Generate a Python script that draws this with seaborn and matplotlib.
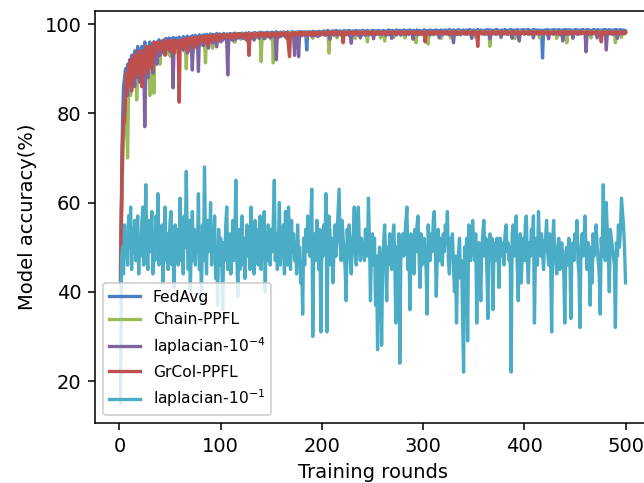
import numpy as np
import pandas as pd
import matplotlib
matplotlib.use("Agg")
import matplotlib.pyplot as plt
import seaborn as sns

series_names = ["FedAvg", "Chain-PPFL", "laplacian-$10^{-4}$", "GrCol-PPFL", "laplacian-$10^{-1}$"]
series_colors = ["#4A7DC4", "#9BBB59", "#8064A2", "#C0504D", "#4BACC6"]
x_ticks = [0, 100, 200, 300, 400, 500]
y_ticks = [20, 40, 60, 80, 100]

fedavg = [
    44, 63, 78, 86, 88, 90, 87, 91, 89, 92, 90, 93, 88, 92, 94, 91, 93, 95, 92, 94,
    93, 95, 91, 94, 96, 93, 95, 92, 94, 96, 94, 95, 93, 96, 95, 94, 96, 95, 96.5, 94.5,
    95.8, 96.2, 95.1, 96.5, 95.9, 96.8, 95.4, 96.3, 96.9, 95.7, 96.6, 96.1, 97.0, 95.8, 96.4, 96.9, 95.6, 96.7, 97.1, 96.2,
    96.8, 95.9, 97.2, 96.5, 97.0, 96.1, 97.3, 96.6, 95.8, 97.1, 96.9, 97.4, 96.3, 97.0, 97.5, 96.7, 97.2, 96.4, 97.6, 97.0,
    97.3, 96.8, 97.6, 97.1, 96.5, 97.7, 97.2, 97.5, 96.9, 97.8, 97.3, 97.0, 97.7, 97.4, 96.8, 97.9, 97.5, 97.2, 97.8, 97.4,
    97.6, 97.1, 97.9, 97.5, 97.2, 97.8, 97.4, 97.0, 97.9, 97.6, 97.3, 97.8, 97.5, 98.0, 97.4, 97.7, 97.9, 97.2, 97.8, 97.6,
    98.0, 97.5, 97.8, 97.3, 98.0, 97.7, 97.4, 98.1, 97.6, 97.9, 97.5, 98.0, 97.7, 98.1, 97.4, 97.9, 98.0, 97.6, 98.2, 97.8,
    97.5, 98.1, 97.8, 98.0, 97.6, 98.2, 97.9, 97.7, 98.1, 97.8, 98.2, 97.6, 98.0, 97.9, 98.3, 97.7, 98.1, 97.9, 98.2, 97.8,
    98.0, 98.3, 97.8, 98.1, 97.9, 98.3, 98.0, 97.7, 98.2, 98.0, 98.3, 97.9, 98.1, 98.2, 97.8, 98.3, 98.0, 98.2, 97.9, 98.3,
    98.1, 97.9, 98.3, 98.0, 94.2, 98.2, 98.0, 98.3, 97.9, 98.2, 98.4, 98.0, 98.1, 98.3, 97.9, 98.2, 98.4, 98.1, 98.0, 98.3,
    98.2, 98.5, 98.0, 98.4, 98.1, 98.6, 98.3, 97.9, 98.4, 98.2, 98.5, 98.1, 98.3, 98.6, 98.0, 98.4, 98.2, 98.5, 98.3, 98.1,
    98.4, 98.6, 98.2, 98.0, 98.5, 98.3, 98.6, 98.1, 98.4, 98.2, 98.5, 98.3, 98.0, 98.6, 98.4, 98.2, 98.5, 98.1, 98.4, 98.6,
    98.3, 98.5, 98.1, 98.4, 98.6, 98.2, 98.4, 98.0, 98.5, 98.3, 98.6, 98.2, 98.4, 98.5, 98.1, 98.6, 98.3, 98.4, 98.2, 98.5,
    98.6, 98.3, 98.1, 98.5, 98.4, 98.7, 98.2, 98.5, 98.3, 98.6, 98.4, 98.1, 98.5, 98.7, 98.3, 98.4, 98.6, 98.2, 98.5, 98.4,
    98.7, 98.3, 98.5, 98.2, 98.6, 98.4, 98.7, 98.1, 98.5, 98.3, 98.6, 98.4, 98.2, 98.7, 98.5, 98.3, 98.6, 98.4, 98.1, 98.5,
    98.7, 98.4, 98.6, 98.2, 98.5, 98.3, 98.7, 98.5, 98.4, 98.6, 98.2, 98.5, 98.7, 98.3, 98.6, 98.4, 98.5, 98.7, 98.2, 98.6,
    98.4, 98.7, 98.5, 98.3, 98.6, 98.8, 98.4, 98.5, 98.2, 98.7, 98.5, 98.3, 98.6, 98.4, 98.8, 98.5, 98.2, 98.6, 98.4, 98.7,
    98.5, 98.3, 98.7, 98.6, 98.4, 98.8, 98.2, 98.6, 98.5, 98.7, 98.3, 98.6, 98.4, 98.8, 98.5, 98.3, 98.7, 98.6, 98.4, 98.5,
    98.7, 98.4, 98.6, 98.8, 98.3, 98.5, 98.7, 98.4, 98.6, 98.2, 98.7, 98.5, 98.8, 98.4, 98.6, 98.5, 98.3, 98.7, 98.6, 98.4,
    98.8, 98.5, 98.6, 98.3, 98.7, 98.5, 98.8, 98.4, 98.6, 98.7, 98.3, 98.5, 98.8, 98.6, 98.4, 98.7, 98.5, 98.6, 98.8, 98.3,
    98.6, 98.7, 98.4, 98.8, 98.5, 98.6, 98.3, 98.7, 98.5, 98.8, 98.4, 98.6, 98.7, 98.5, 98.3, 98.7, 98.6, 92.4, 98.5, 98.7,
    98.4, 98.6, 98.8, 98.5, 98.3, 98.7, 98.6, 98.4, 98.8, 98.5, 98.7, 98.3, 98.6, 98.8, 98.5, 98.4, 98.7, 98.6, 98.3, 98.8,
    98.5, 98.7, 98.4, 98.6, 98.8, 98.3, 98.6, 98.5, 98.7, 98.4, 98.8, 98.6, 98.5, 98.7, 98.3, 98.6, 98.8, 98.4, 98.7, 98.5,
    98.6, 98.8, 98.4, 98.7, 98.5, 98.3, 98.6, 98.8, 98.5, 98.7, 98.4, 98.6, 98.8, 98.5, 98.3, 98.7, 98.6, 98.4, 98.8, 98.5,
    98.7, 98.4, 98.6, 98.8, 98.5, 98.3, 98.7, 98.6, 98.4, 98.8, 98.5, 98.7, 98.3, 98.6, 98.8, 98.5, 98.4, 98.7, 98.6, 98.5,
]

chain_ppfl = [
    43, 55, 67, 74, 79, 83, 80, 70, 85, 88, 84, 89, 86, 90, 87, 91, 83, 89, 92, 88,
    91, 86, 93, 89, 92, 90, 94, 88, 92, 84, 93, 95, 91, 84.5, 94, 92, 95, 93, 94.5, 91,
    95.1, 93.8, 95.9, 94.6, 96.0, 93.2, 95.5, 94.9, 96.2, 92.8, 95.7, 94.4, 96.1, 95.0, 93.6, 96.3, 95.2, 94.7, 96.4, 95.3,
    94.8, 96.5, 95.1, 93.9, 96.2, 90.0, 95.8, 96.6, 94.9, 96.0, 95.4, 96.8, 93.7, 96.3, 95.6, 96.9, 94.8, 96.4, 97.0, 95.5,
    96.7, 95.2, 97.1, 96.0, 91.3, 96.8, 97.2, 95.9, 96.5, 97.3, 96.1, 94.6, 97.0, 96.6, 97.4, 95.8, 97.1, 96.4, 97.5, 96.9,
    97.2, 96.5, 97.6, 96.9, 97.3, 95.8, 97.5, 97.0, 96.4, 97.7, 97.1, 96.8, 97.6, 95.9, 97.4, 97.8, 96.9, 97.3, 97.7, 96.6,
    97.5, 97.9, 96.8, 97.4, 97.7, 96.2, 97.6, 97.9, 97.1, 97.5, 96.7, 97.8, 97.3, 97.9, 96.9, 97.6, 97.2, 98.0, 97.4, 91.6,
    97.7, 97.3, 98.0, 96.8, 97.6, 97.9, 97.2, 97.8, 97.5, 96.6, 97.9, 91.3, 97.7, 98.0, 97.4, 97.8, 96.9, 98.1, 97.6, 97.3,
    97.9, 98.1, 97.4, 97.8, 96.7, 98.0, 97.6, 97.9, 98.2, 97.3, 97.8, 98.0, 97.5, 96.5, 98.1, 97.7, 97.9, 98.2, 97.4, 97.8,
    98.0, 97.6, 98.2, 97.1, 97.9, 98.1, 97.5, 98.0, 97.7, 98.2, 96.8, 97.9, 98.1, 97.6, 98.0, 97.8, 98.2, 97.4, 97.9, 98.1,
    98.0, 97.6, 98.2, 97.8, 97.5, 98.1, 93.5, 97.9, 98.2, 97.7, 98.0, 97.4, 98.2, 97.9, 96.9, 98.1, 97.8, 98.3, 97.5, 98.0,
    97.8, 98.2, 97.6, 98.0, 98.3, 97.7, 98.1, 97.4, 98.0, 98.2, 97.8, 97.5, 96.8, 97.9, 98.1, 97.6, 98.2, 97.9, 97.7, 98.3,
    98.0, 97.6, 98.2, 97.8, 96.0, 98.1, 97.7, 98.3, 97.9, 97.5, 98.2, 98.0, 97.6, 98.3, 97.8, 98.1, 97.7, 96.9, 98.0, 97.5,
    98.3, 96.2, 98.0, 97.8, 98.2, 97.6, 98.1, 98.3, 97.9, 97.7, 97.0, 98.0, 97.5, 98.3, 97.9, 98.1, 97.7, 98.2, 98.0, 97.8,
    98.3, 96.9, 98.1, 97.9, 98.2, 97.7, 98.0, 98.3, 97.8, 98.1, 97.6, 98.2, 95.8, 98.0, 98.3, 97.9, 97.7, 98.2, 98.0, 97.6,
    98.3, 97.9, 98.1, 97.7, 95.5, 98.2, 98.0, 97.8, 98.3, 97.6, 98.1, 98.2, 97.9, 97.7, 98.3, 98.0, 97.8, 96.8, 97.6, 98.1,
    98.3, 97.9, 98.0, 97.7, 98.2, 98.4, 96.9, 98.1, 97.6, 98.3, 98.0, 97.9, 98.2, 97.7, 98.4, 98.1, 97.8, 98.3, 97.9, 98.0,
    98.2, 97.7, 98.4, 98.0, 97.8, 98.3, 97.6, 98.1, 98.2, 97.9, 98.4, 97.0, 98.0, 98.3, 97.7, 98.2, 98.0, 97.9, 98.4, 97.8,
    98.1, 98.3, 97.7, 98.2, 98.0, 95.0, 98.3, 97.9, 98.1, 97.8, 98.4, 98.0, 97.7, 98.2, 98.3, 97.9, 98.1, 97.6, 98.4, 98.0,
    98.2, 97.8, 98.3, 98.0, 97.7, 98.4, 98.1, 97.9, 98.2, 98.0, 96.8, 98.3, 98.1, 97.8, 98.4, 98.0, 97.9, 98.3, 98.1, 97.7,
    98.2, 98.4, 97.9, 98.1, 98.0, 97.7, 98.3, 98.2, 97.8, 98.4, 98.0, 98.1, 97.9, 98.3, 96.9, 98.2, 98.4, 98.0, 97.8, 98.3,
    98.1, 97.9, 98.4, 98.0, 97.7, 98.2, 98.3, 97.8, 98.1, 98.0, 98.4, 96.8, 98.2, 98.0, 97.9, 98.3, 98.1, 97.8, 98.2, 98.0,
    98.3, 95.8, 98.1, 97.9, 98.4, 98.0, 97.8, 98.2, 98.3, 97.9, 98.1, 98.4, 97.7, 98.2, 98.0, 97.8, 98.3, 98.1, 97.9, 98.4,
    98.0, 98.2, 97.8, 98.3, 98.1, 96.9, 98.4, 98.0, 98.2, 97.9, 98.3, 98.1, 97.8, 98.2, 98.4, 97.9, 98.0, 98.3, 97.7, 98.2,
    98.0, 98.3, 97.9, 98.1, 98.2, 97.8, 98.4, 98.0, 97.9, 95.8, 98.1, 98.3, 97.8, 98.2, 98.0, 97.0, 98.3, 98.1, 97.8, 98.2,
]

laplacian_1e4 = [
    42, 58, 73, 77, 80, 85, 88, 84, 89, 91, 87, 92, 89, 90, 86, 92, 88, 93, 90, 87,
    92, 89, 94, 91, 77, 90, 93, 88, 94, 91, 95, 92, 89, 94, 93, 95, 91, 94, 95.5, 93,
    94.5, 96.0, 95.2, 93.4, 96.1, 95.0, 94.3, 96.4, 95.6, 93.9, 96.2, 95.1, 85.7, 95.8, 96.3, 94.7, 95.5, 96.5, 93.8, 95.9,
    96.4, 95.0, 94.2, 96.6, 95.7, 96.1, 93.5, 96.7, 95.3, 96.2, 94.8, 89.7, 96.5, 95.9, 96.8, 95.1, 96.3, 89.4, 96.9, 95.6,
    96.6, 97.0, 95.2, 96.8, 95.9, 97.1, 96.3, 94.6, 97.2, 96.5, 97.0, 95.8, 96.9, 97.3, 96.1, 94.9, 97.2, 96.7, 97.4, 96.0,
    97.1, 96.4, 97.5, 96.8, 97.3, 96.0, 88.6, 97.2, 96.7, 97.6, 97.0, 96.3, 97.5, 97.1, 96.6, 97.7, 97.2, 96.9, 97.6, 97.0,
    97.4, 96.8, 97.7, 97.2, 96.5, 97.6, 97.3, 97.8, 96.9, 97.5, 97.1, 97.7, 96.4, 97.6, 97.8, 97.2, 97.5, 96.8, 97.7, 97.4,
    97.8, 97.3, 96.7, 97.6, 97.9, 97.2, 97.5, 97.8, 96.9, 97.6, 97.9, 97.3, 97.7, 96.6, 92.0, 97.8, 97.4, 97.9, 97.2, 97.6,
    97.9, 97.5, 97.8, 97.1, 97.7, 98.0, 97.4, 97.8, 96.9, 97.6, 98.0, 97.5, 93.0, 97.8, 97.3, 97.9, 92.7, 97.6, 98.0, 97.4,
    97.8, 98.1, 97.5, 97.9, 97.2, 97.7, 98.0, 97.6, 97.9, 97.3, 98.1, 97.7, 97.4, 98.0, 97.8, 97.2, 98.1, 97.6, 97.9, 98.0,
    97.7, 98.1, 97.5, 97.9, 98.2, 97.6, 98.0, 96.6, 98.1, 97.8, 98.2, 97.6, 97.9, 98.1, 97.4, 98.0, 98.2, 97.7, 97.9, 98.1,
    97.5, 98.0, 98.2, 97.6, 97.9, 98.1, 97.4, 98.0, 95.7, 97.8, 98.2, 97.6, 98.0, 97.9, 98.2, 97.5, 98.1, 96.9, 98.0, 97.6,
    98.2, 97.9, 97.5, 98.1, 97.8, 98.2, 97.6, 98.0, 97.9, 98.3, 96.7, 98.1, 97.8, 98.0, 98.2, 97.7, 97.9, 98.3, 97.6, 98.1,
    97.9, 98.2, 97.5, 98.0, 98.3, 97.7, 98.1, 97.9, 96.8, 98.2, 98.0, 97.8, 98.3, 97.6, 98.1, 97.9, 98.2, 97.5, 98.0, 98.3,
    97.8, 98.1, 97.6, 98.2, 98.0, 97.7, 98.3, 97.9, 98.1, 96.6, 98.2, 98.0, 97.8, 98.3, 97.6, 98.1, 98.0, 97.7, 98.2, 97.9,
    98.1, 97.7, 98.3, 98.0, 97.8, 98.2, 97.6, 98.1, 98.3, 97.9, 97.7, 98.2, 98.0, 97.8, 98.3, 96.9, 98.1, 98.2, 97.9, 97.7,
    98.2, 98.0, 97.8, 98.3, 97.9, 97.6, 98.2, 98.1, 97.8, 95.8, 98.0, 98.3, 97.7, 98.1, 98.2, 97.9, 97.6, 98.3, 98.0, 97.8,
    98.2, 98.1, 97.7, 98.3, 97.9, 98.0, 98.2, 96.8, 98.1, 98.3, 97.8, 98.0, 98.2, 97.7, 98.1, 98.3, 97.9, 97.8, 98.2, 98.0,
    97.7, 98.3, 98.1, 97.9, 98.2, 96.7, 98.0, 98.3, 97.8, 98.1, 98.2, 97.7, 98.0, 98.3, 97.9, 98.1, 97.0, 98.2, 98.0, 97.8,
    98.3, 98.1, 97.7, 98.2, 98.0, 97.9, 98.3, 96.8, 98.1, 98.2, 97.8, 98.0, 98.3, 97.7, 96.2, 98.1, 98.2, 97.9, 98.0, 98.3,
    97.8, 98.1, 98.2, 97.7, 98.3, 98.0, 97.9, 98.2, 96.9, 98.1, 98.3, 97.8, 98.0, 98.2, 97.7, 98.1, 98.3, 97.9, 98.0, 98.2,
    97.8, 98.3, 98.0, 96.7, 98.2, 98.1, 97.9, 98.3, 97.7, 98.0, 98.2, 97.8, 98.1, 98.3, 97.6, 98.0, 98.2, 96.2, 97.9, 98.3,
    98.1, 97.7, 98.2, 98.0, 97.8, 98.3, 98.1, 96.8, 98.2, 98.0, 97.9, 98.3, 97.7, 98.1, 98.2, 97.8, 98.0, 98.3, 97.9, 98.1,
    93.8, 98.2, 97.8, 98.0, 98.3, 97.7, 98.1, 98.2, 97.9, 98.0, 98.3, 96.9, 98.1, 98.2, 97.8, 98.0, 98.3, 97.7, 98.1, 98.2,
    94.2, 98.0, 98.3, 97.8, 98.1, 98.2, 97.7, 98.0, 98.3, 97.9, 98.1, 96.8, 98.2, 98.0, 97.8, 98.3, 98.1, 97.9, 98.2, 98.0,
]

grcol_ppfl = [
    45, 60, 74, 79, 78, 85, 89, 86, 91, 88, 92, 85, 90, 93, 88, 92, 90, 94, 89, 93,
    91, 86, 94, 90, 92, 95, 89, 93, 91, 95, 93, 90, 94, 96, 93, 95, 94, 96, 95, 94.5,
    95.5, 94.2, 96.3, 95.1, 93.0, 96.0, 95.4, 94.6, 96.5, 95.2, 94.0, 96.2, 95.7, 93.5, 96.4, 95.0, 96.1, 94.3, 82.5, 95.8,
    96.3, 95.1, 96.6, 94.7, 96.0, 96.8, 95.4, 93.9, 96.5, 96.9, 95.6, 96.2, 97.0, 94.8, 96.7, 96.1, 97.1, 95.5, 96.8, 97.2,
    96.4, 97.0, 95.9, 97.3, 96.6, 97.1, 95.2, 97.4, 96.8, 97.2, 96.0, 97.5, 96.9, 97.3, 96.5, 97.6, 97.0, 96.3, 97.4, 97.7,
    97.3, 96.8, 97.6, 97.1, 97.5, 96.9, 97.7, 97.2, 97.4, 97.8, 96.7, 97.5, 97.3, 97.8, 97.0, 97.6, 97.4, 97.9, 97.1, 97.6,
    97.8, 97.3, 97.6, 97.0, 97.9, 97.4, 97.7, 93.0, 97.5, 97.8, 97.2, 97.9, 97.6, 97.3, 97.8, 97.5, 97.9, 97.1, 97.7, 98.0,
    97.4, 97.8, 97.6, 98.0, 97.3, 97.7, 97.9, 97.5, 97.8, 97.2, 98.0, 97.6, 97.8, 97.4, 98.0, 97.7, 97.5, 97.9, 98.1, 97.6,
    97.8, 98.0, 97.5, 97.9, 97.7, 98.1, 95.0, 92.7, 97.8, 98.0, 97.6, 97.9, 98.1, 97.5, 97.8, 98.0, 97.7, 98.2, 97.6, 97.9,
    98.1, 97.7, 98.0, 97.8, 98.2, 97.6, 97.9, 98.1, 97.8, 98.0, 97.5, 98.2, 97.9, 97.7, 98.1, 97.8, 98.0, 98.2, 97.6, 97.9,
    98.0, 98.2, 97.8, 98.1, 97.9, 98.3, 97.7, 98.0, 98.2, 97.9, 98.1, 98.3, 97.8, 98.0, 98.2, 97.7, 98.1, 97.9, 98.3, 98.0,
    95.8, 98.1, 97.9, 98.2, 98.0, 97.8, 98.3, 98.0, 97.9, 98.2, 98.1, 97.7, 98.3, 98.0, 97.9, 98.2, 98.1, 97.8, 98.3, 98.0,
    98.1, 97.9, 98.3, 98.0, 97.8, 98.2, 98.1, 97.9, 98.3, 97.7, 98.2, 98.0, 98.1, 97.8, 98.3, 98.0, 97.9, 98.2, 98.1, 97.8,
    98.3, 98.0, 97.9, 98.2, 98.1, 97.8, 98.3, 98.0, 98.2, 97.9, 98.1, 98.3, 97.8, 98.0, 98.2, 98.1, 97.9, 98.3, 98.0, 97.8,
    98.2, 98.1, 97.9, 98.3, 98.0, 97.8, 98.2, 98.1, 98.3, 97.9, 98.0, 98.2, 97.8, 98.1, 98.3, 98.0, 97.9, 98.2, 98.1, 97.8,
    98.3, 96.0, 98.1, 98.0, 98.2, 97.9, 98.3, 98.1, 97.8, 98.2, 98.0, 98.3, 97.9, 98.1, 98.2, 97.8, 98.0, 98.3, 98.1, 97.9,
    98.2, 98.0, 98.3, 97.9, 98.1, 98.2, 97.8, 98.0, 98.3, 98.1, 97.9, 98.2, 98.0, 98.3, 97.8, 98.1, 98.2, 98.0, 97.9, 98.3,
    98.1, 97.8, 98.2, 98.0, 98.3, 98.1, 97.9, 98.2, 98.0, 97.8, 98.3, 98.1, 98.0, 95.0, 98.2, 97.9, 98.3, 98.1, 97.8, 98.2,
    98.0, 98.3, 98.1, 97.9, 98.2, 98.0, 97.8, 98.3, 98.1, 98.2, 97.9, 98.0, 98.3, 98.1, 97.8, 98.2, 98.0, 98.3, 97.9, 98.1,
    98.2, 98.0, 98.3, 97.8, 98.1, 98.2, 98.0, 97.9, 98.3, 98.1, 98.2, 97.8, 98.0, 98.3, 98.1, 97.9, 98.2, 98.0, 98.3, 97.8,
    98.1, 98.2, 98.0, 98.3, 97.9, 98.1, 98.2, 97.8, 98.3, 98.0, 98.1, 98.2, 97.9, 98.3, 98.0, 98.1, 97.8, 98.2, 98.3, 98.0,
    98.1, 97.9, 98.2, 98.3, 98.0, 97.8, 98.1, 98.2, 98.3, 97.9, 98.0, 98.2, 98.1, 97.8, 98.3, 98.0, 98.2, 98.1, 97.9, 98.3,
    98.0, 98.2, 98.1, 97.8, 98.3, 98.0, 98.2, 97.9, 98.1, 98.3, 98.0, 97.8, 98.2, 98.1, 98.3, 97.9, 98.0, 98.2, 98.1, 97.8,
    98.3, 98.0, 98.2, 98.1, 97.9, 98.3, 98.0, 98.2, 97.8, 98.1, 98.3, 98.0, 98.2, 97.9, 98.1, 96.0, 98.3, 98.0, 98.2, 97.8,
    98.1, 98.3, 98.0, 98.2, 97.9, 98.1, 98.3, 98.0, 97.8, 98.2, 98.1, 98.3, 97.9, 98.0, 98.2, 98.1, 97.8, 98.3, 98.0, 98.2,
]

laplacian_1e1 = [
    15, 47, 50, 44, 55, 48, 52, 46, 57, 50,
    59, 45, 54, 49, 56, 47, 53, 57, 44, 52,
    48, 55, 59, 46, 52, 64, 50, 45, 56, 49,
    53, 58, 44, 51, 47, 57, 49, 62, 46, 53,
    48, 55, 42, 51, 59, 47, 53, 45, 50, 56,
    58, 46, 52, 41, 55, 49, 54, 46, 51, 61,
    47, 53, 44, 57, 50, 67, 52, 45, 56, 40,
    51, 58, 47, 54, 46, 52, 49, 62, 45, 53,
    38, 55, 47, 68, 52, 44, 56, 49, 50, 60,
    46, 53, 48, 57, 43, 50, 37, 54, 46, 52,
    48, 36, 51, 47, 55, 59, 45, 50, 53, 44,
    49, 56, 47, 52, 65, 48, 39, 54, 45, 51,
    57, 46, 52, 43, 50, 55, 48, 53, 45, 59,
    47, 52, 44, 56, 49, 54, 46, 51, 57, 45,
    52, 48, 58, 40, 53, 47, 55, 50, 46, 54,
    49, 56, 65, 47, 53, 45, 51, 60, 46, 52,
    48, 55, 44, 58, 50, 46, 59, 52, 45, 56,
    49, 53, 47, 51, 44, 55, 48, 50, 42, 47,
    35, 52, 46, 54, 49, 57, 51, 48, 55, 63,
    30, 50, 53, 47, 56, 51, 45, 54, 31, 52,
    48, 55, 50, 62, 31, 49, 57, 53, 46, 52,
    42, 50, 55, 48, 53, 58, 63, 51, 47, 56,
    52, 49, 45, 38, 54, 50, 55, 47, 44, 51,
    53, 59, 48, 46, 56, 59, 51, 47, 52, 49,
    50, 47, 54, 51, 48, 61, 52, 38, 50, 53,
    46, 52, 37, 48, 27, 44, 50, 46, 28, 45,
    51, 55, 48, 38, 50, 46, 53, 49, 45, 52,
    55, 48, 33, 50, 46, 53, 24, 47, 51, 53,
    48, 52, 56, 59, 45, 50, 36, 53, 47, 51,
    44, 54, 49, 55, 57, 48, 41, 53, 46, 50,
    52, 48, 45, 35, 55, 50, 47, 53, 49, 56,
    58, 51, 39, 48, 54, 47, 52, 50, 46, 53,
    49, 55, 51, 58, 47, 44, 52, 49, 53, 46,
    40, 48, 33, 45, 49, 52, 43, 47, 35, 22,
    50, 46, 52, 29, 55, 51, 47, 53, 56, 50,
    47, 53, 33, 49, 51, 46, 38, 50, 53, 56,
    48, 52, 45, 34, 50, 53, 47, 52, 36, 49,
    51, 47, 52, 49, 41, 52, 48, 51, 50, 46,
    53, 55, 49, 51, 47, 50, 22, 53, 55, 48,
    52, 57, 46, 38, 50, 53, 42, 49, 52, 47,
    55, 57, 47, 42, 51, 48, 54, 50, 57, 33,
    48, 52, 46, 58, 50, 48, 53, 49, 45, 51,
    52, 56, 49, 46, 53, 47, 31, 51, 56, 48,
    47, 44, 50, 52, 45, 49, 51, 47, 44, 33,
    49, 50, 46, 52, 48, 34, 49, 51, 47, 53,
    50, 56, 47, 44, 32, 50, 53, 48, 52, 57,
    49, 45, 51, 47, 37, 50, 42, 53, 48, 51,
    55, 50, 47, 44, 35, 52, 48, 64, 50, 47,
    60, 53, 49, 40, 54, 52, 50, 48, 46, 32,
    51, 48, 55, 50, 54, 61, 58, 55, 50, 42,
]

all_series = [fedavg, chain_ppfl, laplacian_1e4, grcol_ppfl, laplacian_1e1]
frames = []
for name, vals in zip(series_names, all_series):
    frames.append(pd.DataFrame({
        "round": np.arange(1, len(vals) + 1),
        "acc": np.asarray(vals, dtype=float),
        "method": name,
    }))
df = pd.concat(frames, ignore_index=True)

DPI = 140
fig = plt.figure(figsize=(644 / DPI, 483 / DPI), dpi=DPI)
ax = fig.add_axes([0.1478, 0.1242, 0.8628, 0.8536])

sns.lineplot(data=df, x="round", y="acc", hue="method", hue_order=series_names,
             palette=series_colors, estimator=None, ax=ax, linewidth=1.7)

ax.set_xlim(-24, 525)
ax.set_ylim(10.6, 103.0)
ax.set_xticks(x_ticks)
ax.set_yticks(y_ticks)
ax.set_xlabel("Training rounds")
ax.set_ylabel("Model accuracy(%)")
ax.legend(loc="lower left", fontsize=8, title=None)

fig.savefig("out.png", dpi=DPI)
